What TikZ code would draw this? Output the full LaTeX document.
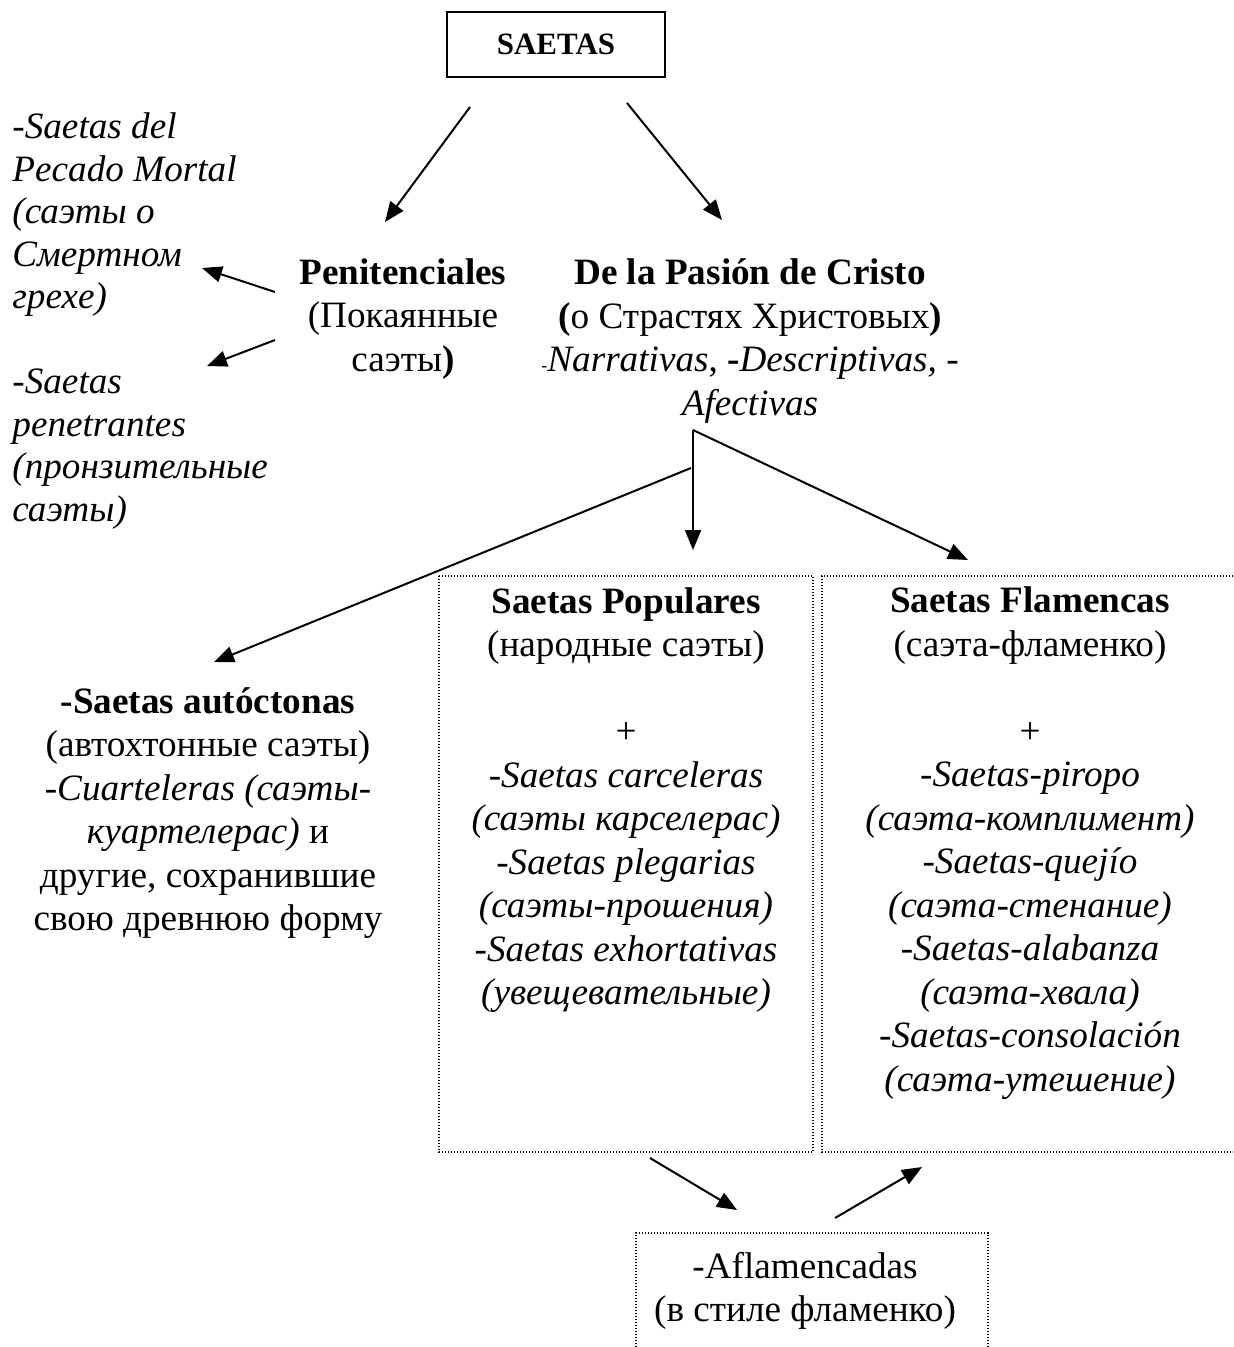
\documentclass[tikz,border=0pt]{standalone}
\usepackage{fontspec}
\setmainfont{Liberation Serif}
\usetikzlibrary{arrows.meta}
\tikzset{
  txt/.style={inner sep=0pt, align=center, font={\fontsize{18.6}{21.75}\selectfont}},
  txtl/.style={inner sep=0pt, align=left, font={\fontsize{18.6}{21.25}\selectfont\itshape}},
  arr/.style={line width=1pt, -{Triangle[length=10pt,width=8pt]}},
  ln/.style={line width=1pt},
  dotbox/.style={line width=0.7pt, dash pattern=on 0.7pt off 0.8pt}
}
\begin{document}
\begin{tikzpicture}[x=0.5pt,y=-0.5pt]
\useasboundingbox (0,0) rectangle (1233,1347);
% top box
\node[draw, line width=1pt, minimum width=109pt, minimum height=32.5pt, inner sep=0pt,
      font={\fontsize{15.5}{18}\selectfont\bfseries}] (saetas) at (556,44.5) {SAETAS};
% left lists
\node[txtl, anchor=west] (left1) at (12,215) {-Saetas del\\Pecado Mortal\\(саэты о\\Смертном\\грехе)};
\node[txtl, anchor=west] (left2) at (12,449) {-Saetas\\penetrantes\\(пронзительные\\саэты)};
% main categories
\node[txt] (pen) at (403,319) {\textbf{Penitenciales}\\(Покаянные\\саэты\textbf{)}};
\node[txt] (pas) at (750,341) {\textbf{De la Pasión de Cristo}\\\textbf{(}о Страстях Христовых\textbf{)}\\{\fontsize{9}{9}\selectfont -}\textit{Narrativas}, \textbf{-}\textit{Descriptivas, -}\\\textit{Afectivas}};
% lower categories
\node[txt] (aut) at (208,813) {\textbf{-Saetas autóctonas}\\(автохтонные саэты)\\\textit{-Cuarteleras (саэты-}\\\textit{куартелерас)} и\\другие, сохранившие\\свою древнюю форму};
\node[txt] (pop) at (626,800) {\textbf{Saetas Populares}\\(народные саэты)\\\mbox{}\\+\\\textit{-Saetas carceleras}\\\textit{(саэты карселерас)}\\\textit{-Saetas plegarias}\\\textit{(саэты-прошения)}\\\textit{-Saetas exhortativas}\\\textit{(увещевательные)}};
\node[txt] (fla) at (1030,843) {\textbf{Saetas Flamencas}\\(саэта-фламенко)\\\mbox{}\\+\\\textit{-Saetas-piropo}\\\textit{(саэта-комплимент)}\\\textit{-Saetas-quejío}\\\textit{(саэта-стенание)}\\\textit{-Saetas-alabanza}\\\textit{(саэта-хвала)}\\\textit{-Saetas-consolación}\\\textit{(саэта-утешение)}};
\node[txt] (afl) at (805,1291) {-Aflamencadas\\(в стиле фламенко)};
% dotted frames
\draw[dotbox] (439,576) rectangle (813,1152);
\draw[dotbox] (1233,576) -- (822,576) -- (822,1152) -- (1233,1152);
\draw[dotbox] (636,1347) -- (636,1233) -- (988,1233) -- (988,1347);
% arrow end points
\coordinate (s1) at (470,107); \coordinate (t1) at (385,222);
\coordinate (s2) at (627,103); \coordinate (t2) at (722,220);
\coordinate (s3) at (275,292); \coordinate (t3) at (202,268);
\coordinate (s4) at (275,340); \coordinate (t4) at (207,366);
\coordinate (br) at (693,430); \coordinate (tr) at (968,560);
\coordinate (tv) at (693,550);
\coordinate (sl) at (691,468); \coordinate (tl) at (214,662);
\coordinate (s5) at (650,1158); \coordinate (t5) at (737,1210);
\coordinate (s6) at (835,1218); \coordinate (t6) at (922,1167);
\draw[arr] (s1) -- (t1);
\draw[arr] (s2) -- (t2);
\draw[arr] (s3) -- (t3);
\draw[arr] (s4) -- (t4);
\draw[arr] (br) -- (tr);
\draw[arr] (br) -- (tv);
\draw[arr] (sl) -- (tl);
\draw[arr] (s5) -- (t5);
\draw[arr] (s6) -- (t6);
\end{tikzpicture}
\end{document}
